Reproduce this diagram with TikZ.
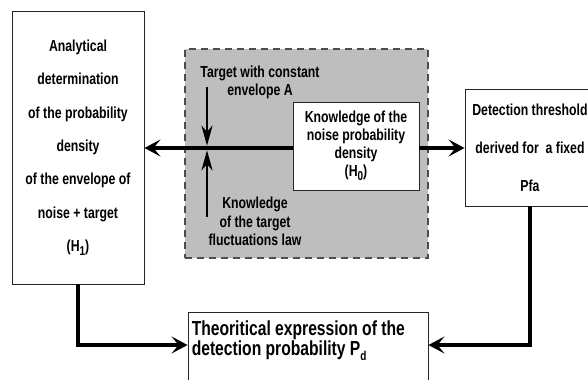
\documentclass[tikz,border=0pt]{standalone}
\usepackage{fontspec}
\setmainfont{Liberation Sans}[FakeStretch=0.77]
\usetikzlibrary{arrows.meta,positioning}
\definecolor{zonegray}{RGB}{190,190,190}
\tikzset{
  blk/.style={draw=black!85, line width=0.9bp, fill=white, align=center, inner sep=0pt},
  zone/.style={draw=black!70, line width=1.1bp, dash pattern=on 7bp off 5bp, fill=zonegray},
  flow/.style={line width=4.5bp, -{Stealth[length=16bp,width=17bp,inset=7bp]}},
  feed/.style={line width=2.6bp, -{Stealth[length=20bp,width=11bp,inset=6bp]}},
  lbl/.style={align=center, inner sep=0pt},
}
\newcommand{\lowidx}[1]{\raisebox{-0.45ex}{\fontsize{13}{13}\selectfont #1}}

\begin{document}
\begin{tikzpicture}[x=1bp, y=-1bp, font=\bfseries\fontsize{16}{18}\selectfont]
  \useasboundingbox (0,0) rectangle (588,379);
  % shaded part: what is known
  \node[zone, minimum width=243bp, minimum height=209bp] (zone) at (306.5,153.5) {};
  \node[blk, minimum width=132bp, minimum height=273bp,
        font=\bfseries\fontsize{16}{33.5}\selectfont] (anal) at (78,147.5)
        {Analytical\\determination\\of the probability\\density\\of the envelope of\\noise + target\\(H\lowidx{1})};
  \node[blk, minimum width=126bp, minimum height=88bp] (noise) at (356,146)
        {Knowledge of the\\noise probability\\density\\(H\lowidx{0})};
  \node[blk, minimum width=130bp, minimum height=117bp,
        font=\bfseries\fontsize{16}{38}\selectfont] (thr) at (530,147.5)
        {Detection threshold\\derived for\ \ a fixed\\Pfa};
  \node[blk, minimum width=240bp, minimum height=80bp] (pd) at (308,352) {};
  \node[lbl, align=left, anchor=north west, font=\bfseries\fontsize{20.4}{19}\selectfont,
        below right=9bp and 4bp of pd.north west] (pdtxt)
        {Theoritical expression of the\\detection probability P\lowidx{d}};
  \node[lbl] (tgt) at (260,82.5) {Target with constant\\envelope A};
  \node[lbl, font=\bfseries\fontsize{16}{18.5}\selectfont] (fluct) at (255,221.5)
        {Knowledge\\of the target\\fluctuations law};
  \coordinate (j) at (207,148);
  \coordinate (jtop) at (207,87);
  \coordinate (jbot) at (207,217);
  % arrows
  \draw[flow] (noise.west |- j) -- (anal.east |- j);
  \draw[feed] (jtop) -- ([yshift=2.3bp]j);
  \draw[feed] (jbot) -- ([yshift=-2.3bp]j);
  \draw[flow] (noise.east |- j) -- (thr.west |- j);
  \draw[flow] (anal.south) |- ([yshift=7bp]pd.west);
  \draw[flow] (thr.south) |- ([yshift=7bp]pd.east);
\end{tikzpicture}
\end{document}
